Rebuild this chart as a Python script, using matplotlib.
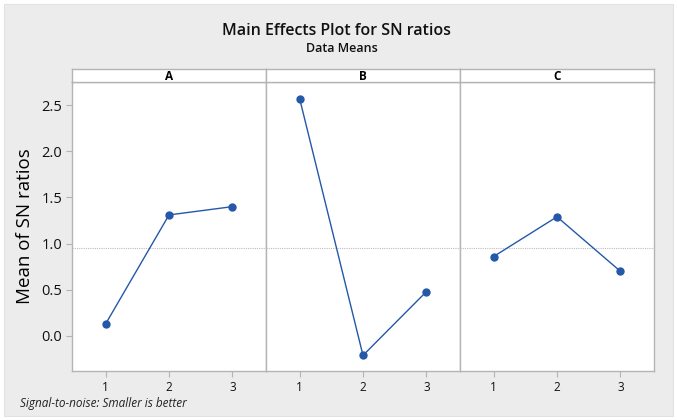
import numpy as np
from matplotlib import pyplot as plt
from matplotlib.patches import Rectangle

# Mean SN ratio for each factor level
factors = ['A', 'B', 'C']
levels = [1, 2, 3]
sn_means = {
    'A': [0.13, 1.31, 1.40],
    'B': [2.57, -0.21, 0.48],
    'C': [0.86, 1.29, 0.70],
}
grand_mean = np.mean([v for k in factors for v in sn_means[k]])
y_ticks = [0.0, 0.5, 1.0, 1.5, 2.0, 2.5]

plt.rcParams['font.family'] = ['Open Sans', 'DejaVu Sans']

W, H = 677, 420
fig = plt.figure(figsize=(W / 100, H / 100), dpi=100)
fig.patch.set_facecolor('white')
fig.add_artist(Rectangle((4 / W, 4 / H), 1 - 8 / W, 1 - 8 / H,
                         transform=fig.transFigure, facecolor='#ECECEC',
                         edgecolor='#E2E2E2', lw=0.8, zorder=-1))

fig.text(336 / W, 1 - 31 / H, 'Main Effects Plot for SN ratios',
         ha='center', va='center', fontsize=11.5, fontweight='semibold',
         color='#111111')
fig.text(342 / W, 1 - 48 / H, 'Data Means', ha='center', va='center',
         fontsize=9, fontweight='semibold', color='#111111')

frame_c = '#B4B4B4'
line_c = '#2458A8'
left, panel_w = 72, 194
top, bottom, strip_h = 82, 371, 13

for i, name in enumerate(factors):
    x0 = (left + i * panel_w) / W
    ax = fig.add_axes([x0, (H - bottom) / H, panel_w / W, (bottom - top) / H])
    ax.set_facecolor('white')
    ax.axhline(grand_mean, color='#BDBDBD', lw=0.8, ls=(0, (1, 1)), zorder=1)
    ax.plot(levels, sn_means[name], color=line_c, lw=1, marker='o',
            markersize=5, markerfacecolor=line_c, markeredgecolor=line_c,
            zorder=3)
    ax.set_xlim(0.47, 3.53)
    ax.set_ylim(-0.379, 2.749)
    ax.set_xticks(levels)
    ax.set_xticklabels([str(v) for v in levels], fontsize=8.5)
    ax.set_yticks(y_ticks)
    if i == 0:
        ax.set_yticklabels(['%.1f' % v for v in y_ticks], fontsize=10.5)
        ax.set_ylabel('Mean of SN ratios', fontsize=13.5,
                      fontweight='medium', labelpad=5)
    else:
        ax.tick_params(axis='y', left=False, labelleft=False)
    ax.tick_params(direction='out', length=4, width=0.8, color=frame_c,
                   pad=3, labelcolor='#111111')
    for side, sp in ax.spines.items():
        sp.set_color(frame_c)
        sp.set_linewidth(1.0)

    strip = fig.add_axes([x0, (H - top) / H, panel_w / W, strip_h / H])
    strip.set_facecolor('white')
    strip.set_xticks([])
    strip.set_yticks([])
    for sp in strip.spines.values():
        sp.set_color(frame_c)
        sp.set_linewidth(1.0)
    strip.text(0.5, 0.45, name, ha='center', va='center', fontsize=8.5,
               fontweight='bold', transform=strip.transAxes)

fig.text(20 / W, 1 - 404 / H, 'Signal-to-noise: Smaller is better',
         ha='left', va='center', fontsize=8.5, style='italic',
         color='#222222')

plt.savefig('out.png', dpi=100, facecolor=fig.get_facecolor())
